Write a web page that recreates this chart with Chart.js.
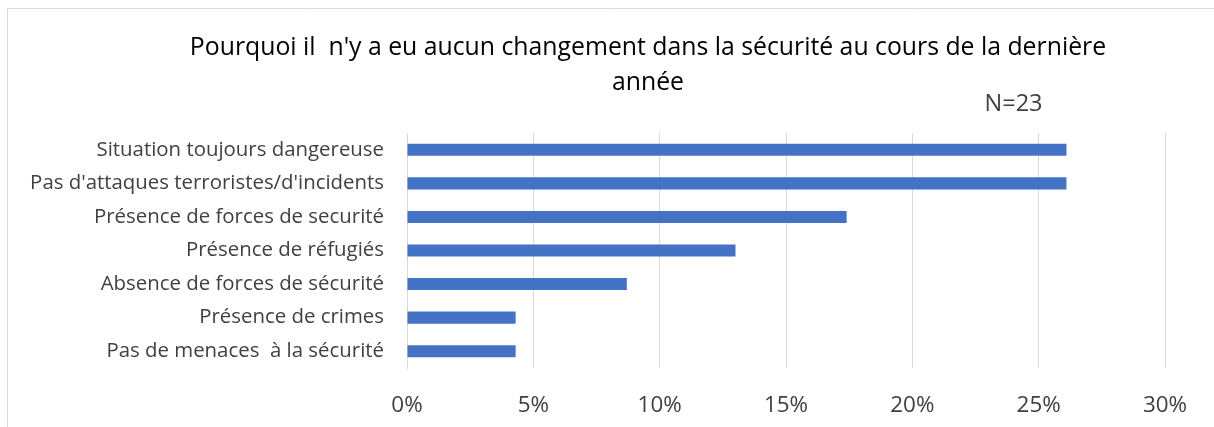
<!DOCTYPE html>
<html>
<head>
<meta charset="utf-8">
<script src="https://cdn.jsdelivr.net/npm/chart.js@4.4.1/dist/chart.umd.min.js"></script>
<style>
html,body{margin:0;padding:0;background:#fff;}
#wrap{position:relative;width:1214px;height:427px;}
</style>
</head>
<body>
<div id="wrap"><canvas id="c" width="1214" height="427"></canvas></div>
<script>
const categories = [
  "Situation toujours dangereuse",
  "Pas d'attaques terroristes/d'incidents",
  "Présence de forces de securité",
  "Présence de réfugiés",
  "Absence de forces de sécurité",
  "Présence de crimes",
  "Pas de menaces  à la sécurité"
];
const values = [26.1, 26.1, 17.4, 13.0, 8.7, 4.3, 4.3];
const tickValues = [0, 5, 10, 15, 20, 25, 30];
const titleLines = ["Pourquoi il  n'y a eu aucun changement dans la sécurité au cours de la dernière", "année"];
const noteText = "N=23";

const FONT = "'Open Sans', sans-serif";

const decorPlugin = {
  id: 'decor',
  beforeDraw(chart) {
    const ctx = chart.ctx;
    ctx.save();
    ctx.strokeStyle = '#d9d9d9';
    ctx.lineWidth = 1;
    ctx.beginPath();
    ctx.moveTo(7.5, 427);
    ctx.lineTo(7.5, 8.5);
    ctx.lineTo(1214, 8.5);
    ctx.stroke();
    ctx.restore();
  },
  afterDraw(chart) {
    const ctx = chart.ctx;
    ctx.save();
    ctx.textAlign = 'center';
    ctx.textBaseline = 'middle';
    ctx.fillStyle = '#000000';
    ctx.font = "24.8px " + FONT;
    ctx.fillText(titleLines[0], 648, 48);
    ctx.fillText(titleLines[1], 648, 83);
    ctx.fillStyle = '#404040';
    ctx.font = "23.5px " + FONT;
    ctx.fillText(noteText, 1013.5, 104);
    ctx.restore();
  }
};

new Chart(document.getElementById('c'), {
  type: 'bar',
  data: {
    labels: categories,
    datasets: [{
      data: values,
      backgroundColor: '#4472C4',
      borderWidth: 0,
      barPercentage: 0.72,
      categoryPercentage: 0.5
    }]
  },
  options: {
    indexAxis: 'y',
    responsive: false,
    animation: false,
    layout: { padding: { left: 8, right: 49, top: 133, bottom: 0 } },
    plugins: {
      legend: { display: false },
      tooltip: { enabled: false },
      title: { display: false }
    },
    scales: {
      x: {
        min: 0, max: 30,
        afterBuildTicks(scale) { scale.ticks = tickValues.map(v => ({ value: v })); },
        afterFit(scale) { scale.height = 59; },
        ticks: {
          color: '#404040',
          font: { family: FONT, size: 22.4 },
          padding: 24,
          callback: v => v + '%'
        },
        grid: { color: '#d9d9d9', lineWidth: 1, drawTicks: false },
        border: { display: false }
      },
      y: {
        afterFit(scale) { scale.width = 399; },
        ticks: {
          color: '#404040',
          font: { family: FONT, size: 20.4 },
          padding: 23
        },
        grid: { display: false, drawTicks: false },
        border: { display: true, color: '#d9d9d9' }
      }
    }
  },
  plugins: [decorPlugin]
});
</script>
</body>
</html>
